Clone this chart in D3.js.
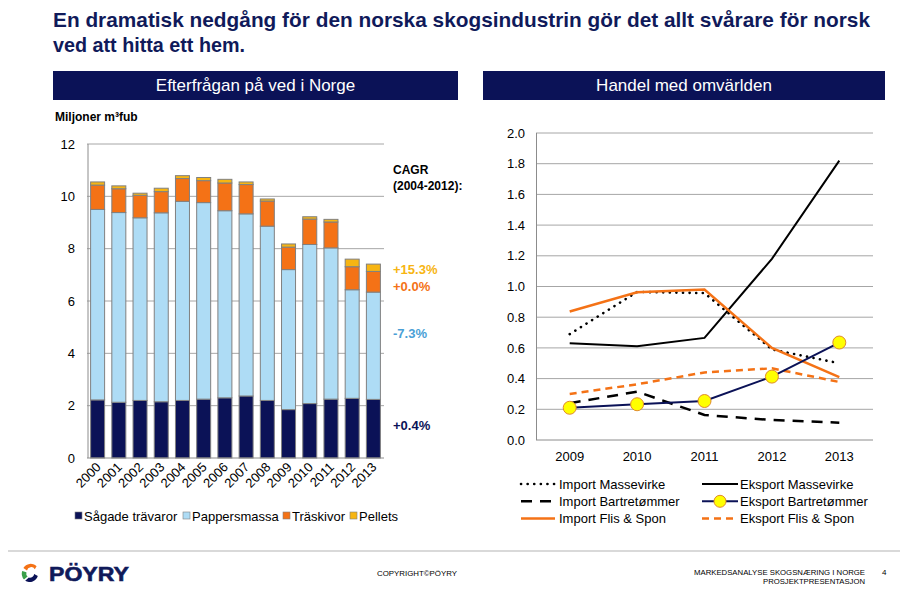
<!DOCTYPE html>
<html><head><meta charset="utf-8">
<script src="https://cdn.jsdelivr.net/npm/d3@7"></script>
<style>body{margin:0;background:#fff}svg{display:block;font-family:"Liberation Sans",Arial,sans-serif}</style>
</head><body>
<svg id="c" width="907" height="595"></svg>
<script>
// ---- Data: left chart ----
const years = ["2000","2001","2002","2003","2004","2005","2006","2007","2008","2009","2010","2011","2012","2013"];
const sagade   = [2.22,2.13,2.20,2.15,2.20,2.25,2.30,2.37,2.20,1.85,2.08,2.25,2.28,2.24];
const papper   = [7.28,7.25,6.98,7.22,7.61,7.51,7.15,6.96,6.66,5.35,6.08,5.78,4.15,4.10];
const traskiv  = [0.93,0.91,0.86,0.81,0.87,0.84,1.06,1.12,0.96,0.86,0.97,0.99,0.88,0.79];
const pellets  = [0.12,0.11,0.08,0.13,0.11,0.12,0.14,0.10,0.08,0.12,0.09,0.10,0.29,0.28];
const barSeries = ["Sågade trävaror","Pappersmassa","Träskivor","Pellets"];
const barTicks = [0,2,4,6,8,10,12];
const cagrLabels = ["+15.3%","+0.0%","-7.3%","+0.4%"];

// ---- Data: right chart ----
const lineYears = ["2009","2010","2011","2012","2013"];
const importMassevirke = [0.69,0.965,0.957,0.59,0.50];
const eksportMassevirke = [0.63,0.61,0.665,1.18,1.82];
const importBartre = [0.24,0.315,0.163,0.13,0.113];
const eksportBartre = [0.21,0.233,0.254,0.413,0.635];
const importFlis = [0.837,0.963,0.98,0.60,0.41];
const eksportFlis = [0.30,0.363,0.44,0.467,0.378];
const lineTicks = [0,0.2,0.4,0.6,0.8,1.0,1.2,1.4,1.6,1.8,2.0];

const svg = d3.select("#c");
const navy = "#0b1257";

// ---- Title ----
svg.append("text").attr("x",53).attr("y",27).attr("font-size",21).attr("font-weight","bold")
  .attr("fill","#101a5a").attr("textLength",817).attr("lengthAdjust","spacingAndGlyphs")
  .text("En dramatisk nedgång för den norska skogsindustrin gör det allt svårare för norsk");
svg.append("text").attr("x",53).attr("y",52).attr("font-size",21).attr("font-weight","bold")
  .attr("fill","#101a5a").attr("textLength",192).attr("lengthAdjust","spacingAndGlyphs")
  .text("ved att hitta ett hem.");

// ---- Header boxes ----
[[53,458,"Efterfrågan på ved i Norge"],[483,885,"Handel med omvärlden"]].forEach(([x0,x1,t])=>{
  svg.append("rect").attr("x",x0).attr("y",71).attr("width",x1-x0).attr("height",29).attr("fill",navy);
  svg.append("text").attr("x",(x0+x1)/2).attr("y",91).attr("text-anchor","middle")
    .attr("font-size",17).attr("fill","#fff").text(t);
});

// ---- Left stacked bar chart ----
const xL = d3.scaleBand().domain(years).range([87,384]).paddingInner(0.34).paddingOuter(0.17);
const yL = d3.scaleLinear().domain([0,12]).range([458,144]);
const gL = svg.append("g");
gL.selectAll("line.grid").data(barTicks.filter(d=>d>0)).join("line")
  .attr("x1",87).attr("x2",384).attr("y1",d=>yL(d)).attr("y2",d=>yL(d))
  .attr("stroke","#a6a6a6").attr("stroke-width",1);
gL.append("line").attr("x1",88).attr("x2",88).attr("y1",yL(12)).attr("y2",yL(0)).attr("stroke","#8c8c8c");
const axL = d3.axisLeft(yL).tickValues(barTicks).tickSize(0).tickPadding(13);
const gax = gL.append("g").attr("transform","translate(88,0)").call(axL);
gax.select(".domain").remove();
gax.selectAll("text").attr("font-size",13).attr("fill","#000").attr("font-family","Liberation Sans, Arial");

const rows = years.map((y,i)=>({year:y,"Sågade trävaror":sagade[i],"Pappersmassa":papper[i],"Träskivor":traskiv[i],"Pellets":pellets[i]}));
const stack = d3.stack().keys(barSeries)(rows);
const barColors = {"Sågade trävaror":"#0b1257","Pappersmassa":"#aedcf5","Träskivor":"#f47216","Pellets":"#f7b512"};
stack.forEach(s=>{
  gL.selectAll(null).data(s).join("rect")
    .attr("x",d=>xL(d.data.year)).attr("width",xL.bandwidth())
    .attr("y",d=>yL(d[1])).attr("height",d=>yL(d[0])-yL(d[1]))
    .attr("fill",barColors[s.key]).attr("stroke","#808080").attr("stroke-width",1);
});
gL.append("line").attr("x1",87).attr("x2",384).attr("y1",yL(0)).attr("y2",yL(0)).attr("stroke","#8c8c8c");
gL.selectAll("text.yr").data(years).join("text")
  .attr("transform",d=>`translate(${xL(d)+xL.bandwidth()/2+4},${468}) rotate(-45)`)
  .attr("text-anchor","end").attr("font-size",13).attr("fill","#000").text(d=>d);

svg.append("text").attr("x",55).attr("y",121).attr("font-size",12).attr("font-weight","bold").text("Miljoner m³fub");

// CAGR
svg.append("text").attr("x",393).attr("y",174).attr("font-size",12).attr("font-weight","bold").text("CAGR");
svg.append("text").attr("x",393).attr("y",190).attr("font-size",12).attr("font-weight","bold").text("(2004-2012):");
const cagrCol = ["#f7b512","#f47216","#4a9fd6","#0b1257"];
const cagrY = [274,291,338,430];
cagrLabels.forEach((t,i)=>{
  svg.append("text").attr("x",393).attr("y",cagrY[i]).attr("font-size",13).attr("font-weight","bold")
    .attr("fill",cagrCol[i]).text(t);
});

// Left legend
const legX = [75,183,283,350];
barSeries.forEach((k,i)=>{
  svg.append("rect").attr("x",legX[i]).attr("y",512).attr("width",7).attr("height",7)
    .attr("fill",barColors[k]).attr("stroke","#808080").attr("stroke-width",0.6);
  svg.append("text").attr("x",legX[i]+9).attr("y",520.5).attr("font-size",13).text(k);
});

// ---- Right line chart ----
const xR = d3.scaleBand().domain(lineYears).range([536,873]);
const cx = d=>xR(d)+xR.bandwidth()/2;
const yR = d3.scaleLinear().domain([0,2]).range([440,133]);
const gR = svg.append("g");
gR.selectAll("line.grid").data(lineTicks.filter(d=>d>0)).join("line")
  .attr("x1",536).attr("x2",873).attr("y1",d=>yR(d)).attr("y2",d=>yR(d))
  .attr("stroke","#a6a6a6");
gR.append("line").attr("x1",536.5).attr("x2",536.5).attr("y1",133).attr("y2",440).attr("stroke","#8c8c8c");
gR.append("line").attr("x1",536).attr("x2",873).attr("y1",440).attr("y2",440).attr("stroke","#8c8c8c");
const axR = d3.axisLeft(yR).tickValues(lineTicks).tickFormat(d3.format(".1f")).tickSize(0).tickPadding(11);
const gaxR = gR.append("g").attr("transform","translate(536,0)").call(axR);
gaxR.select(".domain").remove();
gaxR.selectAll("text").attr("font-size",13).attr("fill","#000").attr("font-family","Liberation Sans, Arial");
gR.selectAll("text.xl").data(lineYears).join("text")
  .attr("x",d=>cx(d)).attr("y",461).attr("text-anchor","middle").attr("font-size",13).text(d=>d);

const series = [
  {name:"Eksport Flis & Spon", v:eksportFlis, color:"#f47216", w:2.5, dash:"7,5", cap:"butt"},
  {name:"Import Bartretømmer", v:importBartre, color:"#000", w:2.5, dash:"11,8", cap:"butt"},
  {name:"Eksport Massevirke", v:eksportMassevirke, color:"#000", w:2, dash:null, cap:"butt"},
  {name:"Import Massevirke", v:importMassevirke, color:"#000", w:2.6, dash:"0.1,6.5", cap:"round"},
  {name:"Import Flis & Spon", v:importFlis, color:"#f47216", w:2.5, dash:null, cap:"butt"},
  {name:"Eksport Bartretømmer", v:eksportBartre, color:"#0b1257", w:2, dash:null, cap:"butt", marker:true}
];
const line = d3.line().x((d,i)=>cx(lineYears[i])).y(d=>yR(d));
series.forEach(s=>{
  gR.append("path").attr("d",line(s.v)).attr("fill","none").attr("stroke",s.color)
    .attr("stroke-width",s.w).attr("stroke-dasharray",s.dash).attr("stroke-linecap",s.cap);
  if(s.marker){
    gR.selectAll(null).data(s.v).join("circle")
      .attr("cx",(d,i)=>cx(lineYears[i])).attr("cy",d=>yR(d)).attr("r",6.5)
      .attr("fill","#ffff00").attr("stroke","#e08a2c").attr("stroke-width",1);
  }
});

// Right legend
const legR = [
  ["Import Massevirke",0,0],["Eksport Massevirke",1,0],
  ["Import Bartretømmer",0,1],["Eksport Bartretømmer",1,1],
  ["Import Flis & Spon",0,2],["Eksport Flis & Spon",1,2]
];
legR.forEach(([n,c,r])=>{
  const s = series.find(d=>d.name===n);
  const x0 = c===0?521:702, x1 = c===0?555:738, tx = c===0?559:740;
  const y = 484 + r*17.3;
  svg.append("line").attr("x1",x0).attr("x2",x1).attr("y1",y).attr("y2",y)
    .attr("stroke",s.color).attr("stroke-width",s.w).attr("stroke-dasharray",s.dash).attr("stroke-linecap",s.cap);
  if(s.marker) svg.append("circle").attr("cx",(x0+x1)/2).attr("cy",y).attr("r",6)
    .attr("fill","#ffff00").attr("stroke","#e08a2c");
  svg.append("text").attr("x",tx).attr("y",y+4.5).attr("font-size",13).text(n);
});

// ---- Footer ----
svg.append("line").attr("x1",8).attr("x2",900).attr("y1",551).attr("y2",551).attr("stroke","#b4b4b4").attr("stroke-width",1.2);
// logo icon
const lg = svg.append("g").attr("transform","translate(30,573.5) scale(1.2)");
lg.append("path").attr("d","M 5.5 -6 A 7 7 0 0 0 -5.5 -4.5 L -2.5 -2.5 A 3.5 3.5 0 0 1 4 -3.5 Z").attr("fill","#f47216");
lg.append("path").attr("d","M -6.5 -2 A 7 7 0 0 0 -5 5 L -2 2.5 A 3.5 3.5 0 0 1 -3 -1 Z").attr("fill","#3aa04a");
lg.append("path").attr("d","M -4 6 A 7 7 0 0 0 6.5 2 L 3.5 0.5 A 3.5 3.5 0 0 1 -1 3.3 Z").attr("fill","#0b1257");
svg.append("text").attr("x",49).attr("y",581).attr("font-size",21).attr("font-weight","bold")
  .attr("fill","#101a5a").attr("stroke","#101a5a").attr("stroke-width",0.6)
  .attr("textLength",80).attr("lengthAdjust","spacingAndGlyphs").text("PÖYRY");
svg.append("text").attr("x",377).attr("y",576).attr("font-size",8).attr("textLength",80)
  .attr("lengthAdjust","spacingAndGlyphs").text("COPYRIGHT©PÖYRY");
svg.append("text").attr("x",694).attr("y",575).attr("font-size",8).attr("textLength",171)
  .attr("lengthAdjust","spacingAndGlyphs").text("MARKEDSANALYSE SKOGSNÆRING I NORGE");
svg.append("text").attr("x",865).attr("y",584).attr("font-size",8).attr("text-anchor","end").attr("textLength",102)
  .attr("lengthAdjust","spacingAndGlyphs").text("PROSJEKTPRESENTASJON");
svg.append("text").attr("x",882).attr("y",575).attr("font-size",8).text("4");
</script>
</body></html>
